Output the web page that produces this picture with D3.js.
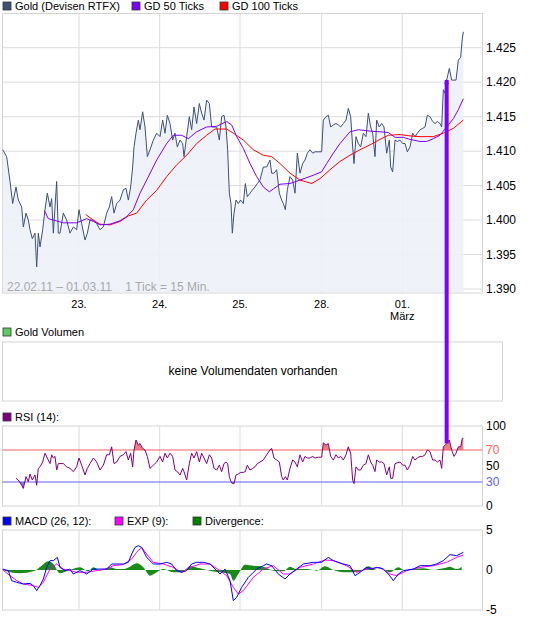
<!DOCTYPE html>
<html><head><meta charset="utf-8">
<script src="https://cdn.jsdelivr.net/npm/d3@7"></script>
<style>body{margin:0;background:#fff}svg{font-family:"Liberation Sans",Arial,sans-serif}</style>
</head><body><svg id="c" width="545" height="618"></svg>
<script>
// time index (one trading day = ~241.5 units), day boundaries
const dayTicks = [237, 479, 720, 965, 1207];
const dayLabels = ["23.", "24.", "25.", "28.", "01."];
const priceTicks = [1.390, 1.395, 1.400, 1.405, 1.410, 1.415, 1.420, 1.425];
const rsiTicks = [100, 70, 50, 30, 0];
const macdTicks = [5, 0, -5];

const t = [8,20,30,38,48,55,65,70,78,85,90,97,105,110,115,120,128,135,142,150,155,160,165,170,175,180,190,200,210,220,230,237,245,255,262,270,280,290,300,310,320,328,335,342,350,360,370,378,385,392,398,402,408,415,420,428,435,442,450,460,470,480,488,495,502,510,518,525,532,540,548,552,560,568,575,582,590,598,605,612,620,628,635,642,650,658,665,672,678,683,688,693,697,702,708,715,722,730,736,742,750,758,765,772,780,790,800,810,815,822,830,838,845,850,856,862,870,878,885,892,900,908,915,922,930,938,945,955,965,970,978,985,992,1000,1008,1015,1022,1030,1038,1045,1052,1058,1062,1068,1075,1082,1090,1098,1105,1112,1118,1125,1130,1138,1145,1152,1160,1168,1172,1178,1185,1192,1200,1208,1215,1222,1230,1238,1245,1252,1260,1268,1275,1282,1290,1298,1305,1312,1320,1325,1330,1335,1340,1348,1355,1362,1368,1375,1382,1387,1390];
const price = [1.4102,1.4092,1.4056,1.4024,1.4048,1.4029,1.4019,1.3990,1.4010,1.4000,1.3986,1.3973,1.3981,1.3932,1.3981,1.3961,1.3986,1.4015,1.4039,1.4019,1.4031,1.3981,1.4019,1.4056,1.3981,1.3981,1.4010,1.4000,1.3981,1.3990,1.3986,1.4015,1.3995,1.3971,1.3981,1.4000,1.4000,1.3995,1.3986,1.3990,1.4010,1.4019,1.4034,1.4010,1.4024,1.4029,1.4044,1.4046,1.4029,1.4048,1.4077,1.4106,1.4126,1.4145,1.4131,1.4157,1.4135,1.4092,1.4102,1.4116,1.4126,1.4121,1.4145,1.4126,1.4152,1.4140,1.4116,1.4126,1.4106,1.4116,1.4111,1.4092,1.4121,1.4150,1.4131,1.4164,1.4140,1.4169,1.4155,1.4145,1.4174,1.4169,1.4135,1.4135,1.4135,1.4116,1.4150,1.4152,1.4135,1.4102,1.4039,1.4024,1.3981,1.4010,1.4029,1.4024,1.4029,1.4024,1.4053,1.4034,1.4039,1.4044,1.4048,1.4053,1.4058,1.4077,1.4077,1.4087,1.4068,1.4068,1.4073,1.4039,1.4029,1.4024,1.4015,1.4044,1.4063,1.4058,1.4039,1.4097,1.4068,1.4082,1.4087,1.4097,1.4102,1.4097,1.4099,1.4099,1.4099,1.4145,1.4150,1.4152,1.4135,1.4138,1.4140,1.4138,1.4135,1.4140,1.4145,1.4162,1.4150,1.4106,1.4082,1.4121,1.4111,1.4106,1.4126,1.4121,1.4155,1.4135,1.4126,1.4092,1.4145,1.4135,1.4140,1.4135,1.4097,1.4116,1.4077,1.4070,1.4116,1.4114,1.4116,1.4111,1.4111,1.4099,1.4106,1.4126,1.4121,1.4126,1.4131,1.4133,1.4135,1.4152,1.4150,1.4143,1.4140,1.4143,1.4140,1.4135,1.4189,1.4184,1.4203,1.4220,1.4203,1.4203,1.4203,1.4232,1.4236,1.4264,1.4273];
const rsi = [null,null,null,null,34.6,32.5,26,22,36.7,30.4,40,32.5,38.8,26,47,49,55,66,60,53,64,60,62,45,53,53,53,49,47,43,49,60,51,38.8,47,53,60,55,45,51,64,64,74,53,55,62,64,68,57.5,66,49,70,82.5,76,78,72,70,62,47,51,55,62,55,66,60,66,62,45,43,38.8,47,43,32.5,53,66,60,68,55,66,60,53,64,60,47,45,51,43,53,55,53,36.7,30.4,28,28,38.8,40,42,42,43,51,45,47,49,53,55,57.5,64,70,72,60,57.5,55,36.7,32.5,36.7,32.5,47,57.5,55,49,64,55,62,60,60,62,60,61,61,79,76,78,62,57.5,64,60,62,57.5,64,74,66,32.5,28,49,45,45,51,53,64,55,51,43,57.5,55,55,53,38.8,49,34.6,34.6,53,54,55,51,51,45,51,62,57.5,60,62,62,64,70,68,57.5,57.5,55,57.5,47,74,76,78,82.5,70,62,66,74,74,84.6,84.6];

const gd50T = [133,145,160,190,230,260,280,300,330,360,380,400,420,440,470,500,520,545,565,590,620,650,680,695,710,730,750,770,790,808,820,840,870,900,940,965,980,1000,1020,1050,1075,1110,1140,1165,1185,1210,1230,1260,1280,1300,1320,1340,1360,1375,1390];
const gd50 = [1.4014,1.4002,1.4000,1.3996,1.3996,1.4002,1.3998,1.3993,1.3994,1.3999,1.4005,1.4015,1.4039,1.4058,1.4087,1.4111,1.4123,1.4123,1.4118,1.4128,1.4135,1.4136,1.4143,1.4138,1.4121,1.4104,1.4082,1.4063,1.4048,1.4041,1.4045,1.4052,1.4053,1.4058,1.4065,1.4070,1.4082,1.4097,1.4111,1.4128,1.4131,1.4129,1.4128,1.4127,1.4120,1.4120,1.4117,1.4114,1.4114,1.4118,1.4123,1.4135,1.4147,1.4160,1.4176];
const gd100T = [257,280,300,330,360,385,410,440,470,500,530,560,590,620,645,680,700,730,760,790,815,840,870,900,935,960,990,1020,1050,1080,1110,1140,1165,1200,1230,1260,1300,1330,1360,1390];
const gd100 = [1.4008,1.4000,1.3994,1.3993,1.3998,1.4006,1.4010,1.4029,1.4043,1.4063,1.4080,1.4094,1.4111,1.4123,1.4132,1.4132,1.4126,1.4116,1.4102,1.4094,1.4092,1.4082,1.4068,1.4058,1.4053,1.4060,1.4073,1.4085,1.4094,1.4102,1.4109,1.4117,1.4123,1.4124,1.4122,1.4121,1.4121,1.4126,1.4133,1.4145];

const macdT = [8,25,35,50,70,90,100,110,120,130,140,150,160,172,180,195,210,220,240,260,280,300,320,335,350,370,385,395,405,415,425,440,460,480,500,515,530,545,560,575,590,610,630,645,660,675,690,700,710,725,745,770,790,800,815,835,855,870,890,910,940,965,985,1000,1030,1050,1065,1080,1100,1115,1130,1150,1165,1180,1195,1210,1240,1260,1290,1310,1330,1350,1370,1390];
const macd = [0.12,-0.08,-1.33,-1.54,-1.75,-1.67,-1.96,-2.58,-1.96,-1.13,0.33,1.17,1.17,1.58,0.33,-0.08,0.12,-0.50,-0.08,-0.50,0.12,0.12,0.12,0.75,0.75,0.75,0.96,2.0,2.83,3.04,2.83,1.58,0.75,0.75,0.96,0.75,-0.08,-0.29,-0.08,0.75,0.96,0.96,0.75,0.12,-0.50,0.12,-1.33,-3.83,-3.42,-2.17,-0.92,0.12,0.54,0.75,0.54,-0.50,-1.13,-0.50,0.12,0.75,0.96,0.96,1.58,1.17,0.75,0.54,-0.71,-0.29,0.33,0.12,0.33,0.12,-0.50,-1.33,-0.50,-0.08,0.12,0.54,0.54,0.75,1.17,1.92,1.79,2.21];
const expT = [8,30,50,70,100,115,130,150,170,190,210,230,260,290,320,340,370,395,410,425,440,460,490,520,545,570,600,630,660,680,700,715,730,760,790,820,850,870,900,940,975,1000,1040,1070,1100,1140,1170,1190,1220,1260,1300,1340,1370,1390];
const expv = [0.04,-0.71,-1.33,-1.75,-1.96,-2.17,-1.54,0.12,0.75,0.12,-0.08,-0.29,-0.29,-0.08,0.12,0.54,0.67,1.38,2.21,2.83,2.0,0.96,0.75,0.33,-0.29,0.33,0.75,0.75,-0.08,-0.71,-2.17,-3.0,-2.58,-0.92,0.12,0.54,-0.50,-0.50,0.33,0.75,1.25,1.17,0.54,-0.29,0.12,0.33,-0.50,-0.71,-0.08,0.33,0.54,0.96,1.58,1.88];
const divT = [8,30,60,100,125,145,160,180,200,240,265,280,300,330,350,370,390,410,430,450,470,490,520,545,570,600,630,660,690,700,715,735,760,790,820,850,870,890,920,950,975,1000,1030,1060,1080,1105,1130,1150,1170,1195,1215,1240,1270,1300,1330,1350,1370,1385];
const divv = [0,-0.29,-0.42,-0.17,0.54,1.08,0.75,-0.42,-0.17,0.33,-0.17,0.33,-0.08,0.33,0.12,0.12,0.42,0.83,0.33,-0.71,-0.29,0.12,-0.29,-0.29,0.46,0.21,-0.08,-0.29,-0.50,-1.33,-0.50,0.67,0.54,0.42,-0.08,-0.17,0.42,0.12,0.12,-0.08,0.46,0,-0.29,-0.29,-0.17,0.46,0,0,-0.29,0.33,-0.08,0.12,0.21,0,0.21,0.42,0.12,0.42];

const svg = d3.select("#c");
const x = d3.scaleLinear().domain([0, 1449]).range([0, 483]);
const L = 2.5, R = 482.5;
const FS = 11;

function panel(top, bottom, yScale, ticks, tickColor) {
  const g = svg.append("g");
  g.append("rect").attr("x", L).attr("y", top).attr("width", R - L).attr("height", bottom - top)
    .attr("fill", "#fff").attr("stroke", "#d4d4d4");
  g.selectAll(".vg").data(dayTicks).join("line").attr("x1", d => x(d)).attr("x2", d => x(d))
    .attr("y1", top).attr("y2", bottom).attr("stroke", "#dcdcdc");
  if (ticks) {
    svg.append("g").selectAll("text").data(ticks).join("text")
      .attr("x", 486).attr("y", d => yScale(d) + 4).attr("font-size", FS + 1)
      .attr("fill", d => tickColor ? tickColor(d) : "#000").text(d => d);
  }
  return g;
}
function legend(items, y) {
  const g = svg.append("g");
  items.forEach(([lx, col, label]) => {
    g.append("rect").attr("x", lx).attr("y", y - 8).attr("width", 8).attr("height", 8)
      .attr("fill", col).attr("stroke", "#333").attr("stroke-width", 0.8);
    g.append("text").attr("x", lx + 12).attr("y", y).attr("font-size", FS).text(label);
  });
}

// MAIN
const yP = d3.scaleLinear().domain([1.390, 1.425]).range([289, 47.7]);
const pts = t.map((d, i) => [d, price[i]]);
legend([[3, "#3d5078", "Gold (Devisen RTFX)"], [132, "#7b00ff", "GD 50 Ticks"], [220, "#ff0000", "GD 100 Ticks"]], 10);
const mg = panel(13.5, 293, yP, null);
mg.selectAll(".hg").data(priceTicks).join("line").attr("x1", L).attr("x2", R)
  .attr("y1", d => yP(d)).attr("y2", d => yP(d)).attr("stroke", "#dcdcdc");
svg.append("g").selectAll("text").data(priceTicks).join("text")
  .attr("x", 486).attr("y", d => yP(d) + 4).attr("font-size", FS + 1).text(d => d.toFixed(3));
mg.append("path").datum(pts).attr("fill", "#eef1fa").attr("opacity", 0.9)
  .attr("d", d3.area().x(d => x(d[0])).y0(292).y1(d => yP(d[1])));
mg.append("text").attr("x", 7).attr("y", 291).attr("font-size", FS + 1).attr("fill", "#a8a8a8")
  .attr("xml:space", "preserve").text("22.02.11 – 01.03.11    1 Tick = 15 Min.");
mg.append("path").datum(pts).attr("fill", "none").attr("stroke", "#3d5078").attr("stroke-width", 1)
  .attr("d", d3.line().x(d => x(d[0])).y(d => yP(d[1])));
mg.append("path").datum(gd100T.map((d, i) => [d, gd100[i]])).attr("fill", "none").attr("stroke", "#ff0000")
  .attr("d", d3.line().x(d => x(d[0])).y(d => yP(d[1])));
mg.append("path").datum(gd50T.map((d, i) => [d, gd50[i]])).attr("fill", "none").attr("stroke", "#7b00ff")
  .attr("d", d3.line().x(d => x(d[0])).y(d => yP(d[1])));
svg.append("g").selectAll("text").data(dayTicks).join("text")
  .attr("x", d => x(d)).attr("y", 308).attr("text-anchor", "middle").attr("font-size", FS)
  .text((d, i) => dayLabels[i]);
svg.append("text").attr("x", x(dayTicks[4])).attr("y", 320).attr("text-anchor", "middle")
  .attr("font-size", FS).text("März");

// VOLUME
legend([[3, "#5ccc5c", "Gold Volumen"]], 336);
svg.append("rect").attr("x", L).attr("y", 342).attr("width", 500).attr("height", 59)
  .attr("fill", "#fff").attr("stroke", "#d4d4d4");
svg.append("text").attr("x", 253).attr("y", 375).attr("text-anchor", "middle").attr("font-size", 12)
  .text("keine Volumendaten vorhanden");

// RSI
const yR = d3.scaleLinear().domain([0, 100]).range([506, 426]);
legend([[3, "#800080", "RSI (14):"]], 421);
const rg = panel(426, 506, yR, rsiTicks, d => d === 70 ? "#ff6060" : d === 30 ? "#6060ff" : "#000");
const rp = t.map((d, i) => [d, rsi[i]]).filter(d => d[1] !== null);
const defs = svg.append("defs");
defs.append("clipPath").attr("id", "hi").append("rect").attr("x", 0).attr("y", 0).attr("width", 545).attr("height", yR(70));
defs.append("clipPath").attr("id", "lo").append("rect").attr("x", 0).attr("y", yR(30)).attr("width", 545).attr("height", 100);
rg.append("path").datum(rp).attr("clip-path", "url(#hi)").attr("fill", "#f08080")
  .attr("d", d3.area().x(d => x(d[0])).y0(yR(70)).y1(d => yR(d[1])));
rg.append("path").datum(rp).attr("clip-path", "url(#lo)").attr("fill", "#8080f0")
  .attr("d", d3.area().x(d => x(d[0])).y0(yR(30)).y1(d => yR(d[1])));
rg.append("line").attr("x1", L).attr("x2", R).attr("y1", yR(70)).attr("y2", yR(70)).attr("stroke", "#f06060");
rg.append("line").attr("x1", L).attr("x2", R).attr("y1", yR(30)).attr("y2", yR(30)).attr("stroke", "#6060f0");
rg.append("path").datum(rp).attr("fill", "none").attr("stroke", "#800080")
  .attr("d", d3.line().x(d => x(d[0])).y(d => yR(d[1])));

// MACD
const yM = d3.scaleLinear().domain([-5, 5]).range([610, 530]);
legend([[3, "#0000ff", "MACD (26, 12):"], [115, "#ff00ff", "EXP (9):"], [193, "#008000", "Divergence:"]], 525);
const cg = panel(530, 610, yM, macdTicks);
cg.append("path").datum(divT.map((d, i) => [d, divv[i]])).attr("fill", "#1a8a1a")
  .attr("d", d3.area().curve(d3.curveMonotoneX).x(d => x(d[0])).y0(yM(0)).y1(d => yM(d[1])));
cg.append("path").datum(expT.map((d, i) => [d, expv[i]])).attr("fill", "none").attr("stroke", "#ff00ff")
  .attr("d", d3.line().x(d => x(d[0])).y(d => yM(d[1])));
cg.append("path").datum(macdT.map((d, i) => [d, macd[i]])).attr("fill", "none").attr("stroke", "#0000ff")
  .attr("d", d3.line().x(d => x(d[0])).y(d => yM(d[1])));

// annotation arrow (purple bar)
const ax = x(t[price.indexOf(1.4220) - 1]);
svg.append("line").attr("x1", ax).attr("x2", ax).attr("y1", yP(1.4203)).attr("y2", yR(78))
  .attr("stroke", "#7b00ff").attr("stroke-width", 4);
svg.append("path").attr("d", `M${ax - 2.5},${yP(1.4203) + 4}L${ax},${yP(1.4203) - 1}L${ax + 2.5},${yP(1.4203) + 4}Z`)
  .attr("fill", "#7b00ff");
</script></body></html>
